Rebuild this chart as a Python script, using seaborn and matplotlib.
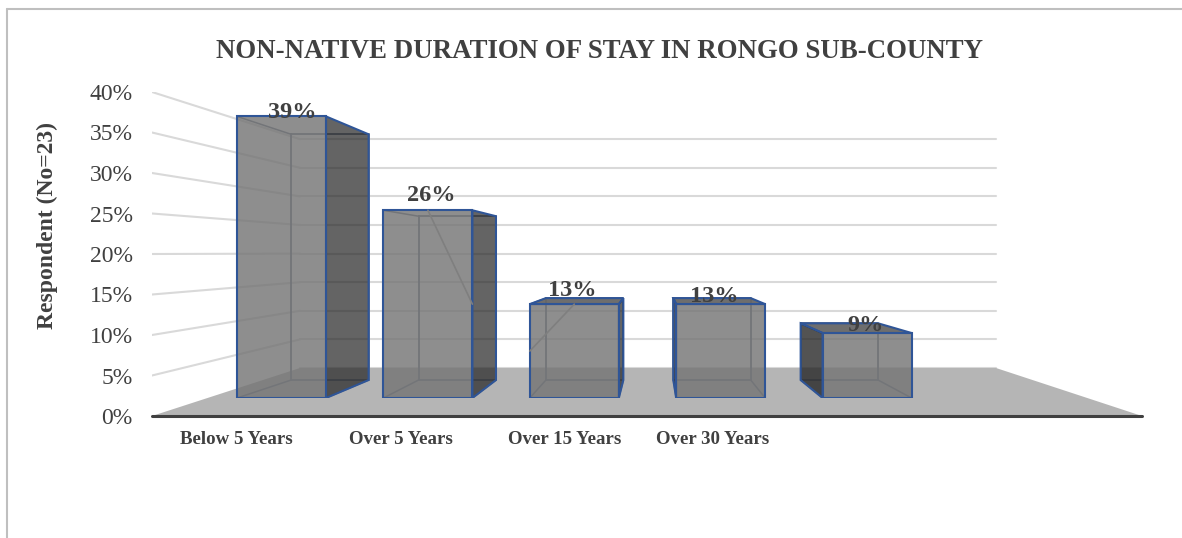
import matplotlib
matplotlib.use("Agg")
import matplotlib.pyplot as plt
import seaborn as sns
from matplotlib.lines import Line2D
from matplotlib.patches import Polygon

# Survey results
categories = ["Below 5 Years", "Over 5 Years", "Over 15 Years", "Over 30 Years", " "]
percent = [39, 26, 13, 13, 9]
axis_ticks = [0, 5, 10, 15, 20, 25, 30, 35, 40]
axis_labels = ["Below 5 Years", "Over 5 Years", "Over 15 Years", "Over 30 Years"]

W, H = 1182, 538
SERIF = "Liberation Serif"
BLUE = "#2f5597"
GRID = "#d9d9d9"
TEXT = "#404040"

sns.set_theme(style="white")
plt.rcParams["font.family"] = SERIF

fig = plt.figure(figsize=(W / 100, H / 100), dpi=100)


def place(left, baseline, width, height):
    """Axes rectangle from pixel measures with the origin at the top left."""
    return [left / W, (H - baseline) / H, width / W, height / H]


# Side wall and floor share one axes, scaled along the wall's front edge
wall = fig.add_axes(place(152, 416, 990, 324))
wall.set_xlim(152, 1142)
wall.set_ylim(0, 40)
wall.patch.set_alpha(0)
sns.despine(ax=wall, left=True, bottom=True, top=True, right=True)
wall.set_yticks(axis_ticks, [f"{t}%" for t in axis_ticks], fontsize=17, color=TEXT)
wall.set_xticks([236, 401, 565, 713], axis_labels, fontsize=13.6, fontweight="bold", color=TEXT)
wall.tick_params(axis="y", length=0, pad=14)
wall.tick_params(axis="x", length=0, pad=11)
wall.set_ylabel("Respondent (No=23)", fontsize=17, fontweight="bold", color=TEXT)
wall.yaxis.set_label_coords((58 - 152) / 990, (416 - 226) / 324)

# Depth of the chart: the back wall is smaller and sits higher than the front edge
BACK_LEFT, BACK_RIGHT = 300, 996
BACK_BASE = 48 / 8.1
BACK_SCALE = 5.72 / 8.1

wall.add_patch(Polygon([(152, 0), (1142, 0), (BACK_RIGHT, BACK_BASE), (BACK_LEFT, BACK_BASE)],
                       closed=True, facecolor="#b5b5b5", edgecolor="none", zorder=1))
for t in axis_ticks:
    back_y = BACK_BASE + BACK_SCALE * t
    wall.plot([BACK_LEFT, BACK_RIGHT], [back_y, back_y], color=GRID, lw=1.5, zorder=0.8)
    if t > 0:
        wall.plot([152, BACK_LEFT], [t, back_y], color=GRID, lw=1.5, zorder=0.8)
wall.plot([152, 1142], [0, 0], color=TEXT, lw=2.2, zorder=2, solid_capstyle="round", clip_on=False)

# Bars: the axes sits on the plane of the front faces
BAR_UNIT = 146.4
FIRST_CENTRE = 281.5
PX_PER_PCT = 7.22
bars = fig.add_axes(place(152, 398, 990, 40 * PX_PER_PCT))
bars.patch.set_alpha(0)
sns.barplot(x=categories, y=percent, ax=bars, width=89 / BAR_UNIT, color="#747474",
            saturation=1, order=categories, zorder=5)
bars.set_xlim((152 - FIRST_CENTRE) / BAR_UNIT, (1142 - FIRST_CENTRE) / BAR_UNIT)
bars.set_ylim(0, 40)
bars.axis("off")

for patch in bars.patches:
    patch.set_facecolor((0.455, 0.455, 0.455, 0.81))
    patch.set_edgecolor(BLUE)
    patch.set_linewidth(1.5)


def back(x, v):
    """Project a front-plane point onto the rear plane of the bar."""
    return 0.3306 + 0.87 * x, 2.49 + 0.8726 * v


half = 89 / BAR_UNIT / 2
label_dx = [11, 3, -2, -6, -2]
label_dy = [4, 15, 14, 8, 8]
leader_edge = {1: 1, 2: -1}

for i, v in enumerate(percent):
    x0, x1 = i - half, i + half
    bl, br = back(x0, 0), back(x1, 0)
    tl, tr = back(x0, v), back(x1, v)

    # Rear edges show faintly through the glassy faces
    bars.plot([tl[0], tr[0], br[0], bl[0], tl[0]], [tl[1], tr[1], br[1], bl[1], tl[1]],
              color="#6f7a8e", lw=1.3, zorder=3)
    bars.plot([x0, bl[0]], [0, bl[1]], color="#6f7a8e", lw=1.1, zorder=3)
    bars.plot([x1, br[0]], [0, br[1]], color="#6f7a8e", lw=1.1, zorder=3)
    bars.plot([x0, tl[0]], [v, tl[1]], color="#6f7a8e", lw=1.1, zorder=3)

    # The top face is only visible on bars that end below eye level
    if tl[1] > v:
        bars.add_patch(Polygon([(x0, v), (x1, v), tr, tl], closed=True,
                               facecolor=(0.40, 0.40, 0.40, 0.95), edgecolor=BLUE, lw=1.5, zorder=4))
    # Whichever side face the viewpoint can see
    if br[0] > x1:
        bars.add_patch(Polygon([(x1, 0), br, tr, (x1, v)], closed=True,
                               facecolor=(0.157, 0.157, 0.157, 0.72), edgecolor=BLUE, lw=1.5, zorder=4))
    if bl[0] < x0:
        bars.add_patch(Polygon([(x0, 0), bl, tl, (x0, v)], closed=True,
                               facecolor=(0.157, 0.157, 0.157, 0.80), edgecolor=BLUE, lw=1.5, zorder=4))

    # Leader lines for the two displaced labels
    if i in leader_edge:
        edge = i + leader_edge[i] * half
        bars.plot([i, edge], [v, v / 2], color="#7f7f7f", lw=1.2, zorder=6)

    bars.annotate(f"{v}%", xy=(i, v), xytext=(label_dx[i], label_dy[i]),
                  textcoords="offset pixels", ha="center", va="center", fontsize=17.5,
                  fontweight="bold", color=TEXT, zorder=7, annotation_clip=False)

fig.text(600 / W, 1 - 51 / H, "NON-NATIVE DURATION OF STAY IN RONGO SUB-COUNTY", ha="center",
         va="center", fontsize=19.4, fontweight="bold", color=TEXT)

# Chart frame
frame_color = "#bfbfbf"
fig.add_artist(Line2D([7 / W, 1], [1 - 9 / H, 1 - 9 / H], color=frame_color, lw=1.5))
fig.add_artist(Line2D([7 / W, 7 / W], [0, 1 - 9 / H], color=frame_color, lw=1.5))

fig.savefig("out.png", dpi=100, facecolor="white")
